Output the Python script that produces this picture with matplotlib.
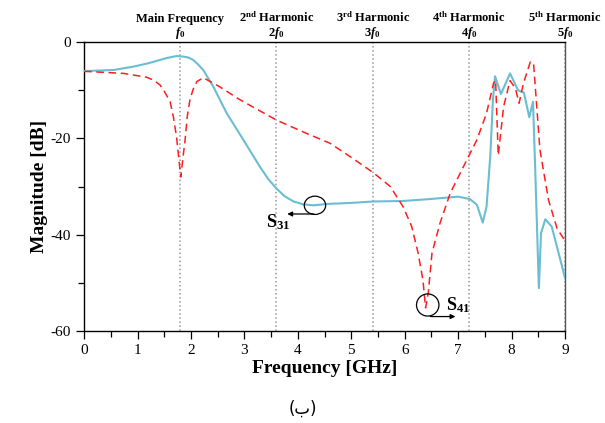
import numpy as np
import matplotlib.pyplot as plt
from matplotlib.ticker import MultipleLocator
from matplotlib.patches import Ellipse

# S31 (solid cyan)
s31_f = [0.0, 0.05, 0.55, 0.92, 1.2, 1.36, 1.55, 1.73, 1.85, 1.95, 2.04, 2.12, 2.23, 2.42, 2.67,
         2.98, 3.29, 3.45, 3.6, 3.75, 3.92, 4.1, 4.29, 4.57, 5.0, 5.41, 5.97, 6.47, 7.0, 7.22,
         7.35, 7.46, 7.53, 7.6, 7.65, 7.69, 7.8, 7.97, 8.12, 8.23, 8.33, 8.4, 8.44, 8.51, 8.55,
         8.63, 8.75, 9.0]
s31_db = [-6.0, -6.0, -5.8, -5.1, -4.4, -3.9, -3.3, -2.9, -3.0, -3.2, -3.7, -4.5, -5.8, -9.3, -14.8,
          -20.3, -25.9, -28.5, -30.4, -32.0, -33.1, -33.7, -33.9, -33.6, -33.4, -33.1, -33.0, -32.6, -32.1, -32.6,
          -33.8, -37.5, -34.2, -23.8, -12.0, -7.1, -10.8, -6.5, -10.0, -10.5, -15.6, -12.4, -25.9, -51.1, -39.7,
          -36.8, -38.3, -49.0]

# S41 (dashed red)
s41_f = [0.0, 0.05, 0.74, 1.17, 1.3, 1.42, 1.5, 1.61, 1.67, 1.73, 1.77, 1.81, 1.85, 1.89, 1.93,
         1.98, 2.04, 2.11, 2.23, 2.54, 2.92, 3.6, 4.17, 4.6, 4.98, 5.41, 5.73, 5.97, 6.13, 6.25,
         6.34, 6.39, 6.44, 6.51, 6.66, 6.85, 7.16, 7.35, 7.53, 7.66, 7.7, 7.75, 7.85, 7.97, 8.07,
         8.14, 8.22, 8.35, 8.41, 8.53, 8.69, 8.85, 9.0]
s41_db = [-6.1, -6.1, -6.5, -7.3, -7.9, -8.9, -10.2, -12.4, -15.5, -19.7, -24.0, -28.0, -24.0, -20.3, -15.5,
          -12.0, -9.8, -8.2, -7.4, -9.3, -12.0, -16.2, -19.0, -21.0, -23.8, -27.1, -30.0, -34.2, -38.3, -43.8,
          -49.4, -55.2, -52.1, -43.8, -37.6, -31.4, -24.5, -20.3, -14.8, -8.6, -7.9, -23.5, -13.4, -8.0, -9.6,
          -12.7, -8.6, -4.1, -4.4, -22.4, -32.8, -38.7, -41.3]

harmonic_f = [1.8, 3.6, 5.4, 7.2, 9.0]
harmonic_names = ["Main Frequency", "2$^{\\mathrm{nd}}$ Harmonic", "3$^{\\mathrm{rd}}$ Harmonic",
                  "4$^{\\mathrm{th}}$ Harmonic", "5$^{\\mathrm{th}}$ Harmonic"]
harmonic_sub = ["$\\mathit{f}_0$", "2$\\mathit{f}_0$", "3$\\mathit{f}_0$", "4$\\mathit{f}_0$", "5$\\mathit{f}_0$"]

plt.rcParams["font.family"] = ["Liberation Serif", "DejaVu Serif"]
plt.rcParams["axes.unicode_minus"] = False
plt.rcParams["mathtext.fontset"] = "custom"
plt.rcParams["mathtext.rm"] = "Liberation Serif:bold"
plt.rcParams["mathtext.it"] = "Liberation Serif:bold:italic"
plt.rcParams["mathtext.bf"] = "Liberation Serif:bold"

fig = plt.figure(figsize=(6.05, 4.23), dpi=100)
ax = fig.add_axes([0.139, 0.2175, 0.795, 0.683])

for f in harmonic_f:
    ax.axvline(f, color="#999999", linestyle=":", linewidth=1.1, zorder=1)

ax.plot(s31_f, s31_db, color="#6BBDD2", linewidth=1.5, zorder=3)
ax.plot(s41_f, s41_db, color="#FF1E1E", linewidth=1.1, linestyle=(0, (5, 3)), zorder=3)

for f, name, sub in zip(harmonic_f, harmonic_names, harmonic_sub):
    ax.text(f, 1.058, name, transform=ax.get_xaxis_transform(), ha="center", va="bottom",
            fontsize=9, fontweight="bold")
    ax.text(f, 1.005, sub, transform=ax.get_xaxis_transform(), ha="center", va="bottom",
            fontsize=9, fontweight="bold")

# annotations
ax.add_patch(Ellipse((4.32, -33.9), 0.4, 3.8, fill=False, edgecolor="black", linewidth=0.9, zorder=4))
ax.annotate("", xy=(3.75, -35.7), xytext=(4.35, -35.7),
            arrowprops=dict(arrowstyle="-|>", color="black", linewidth=0.9, mutation_scale=7))
ax.text(3.4, -37.4, "S$_{31}$", fontsize=13, fontweight="bold", ha="left", va="center")

ax.add_patch(Ellipse((6.43, -54.6), 0.42, 4.6, fill=False, edgecolor="black", linewidth=0.9, zorder=4))
ax.annotate("", xy=(7.0, -57.0), xytext=(6.43, -57.0),
            arrowprops=dict(arrowstyle="-|>", color="black", linewidth=0.9, mutation_scale=7))
ax.text(6.78, -54.6, "S$_{41}$", fontsize=13, fontweight="bold", ha="left", va="center")

ax.set_xlim(0, 9)
ax.set_ylim(-60, 0)
ax.xaxis.set_major_locator(MultipleLocator(1))
ax.xaxis.set_minor_locator(MultipleLocator(0.5))
ax.yaxis.set_major_locator(MultipleLocator(20))
ax.yaxis.set_minor_locator(MultipleLocator(10))
ax.tick_params(which="both", direction="out", labelsize=11, width=0.9)
ax.tick_params(which="major", length=6)
ax.tick_params(which="minor", length=4)
for s in ax.spines.values():
    s.set_linewidth(1.0)
ax.spines["right"].set_color("#555555")

ax.set_xlabel("Frequency [GHz]", fontsize=14, fontweight="bold", labelpad=2)
ax.set_ylabel("Magnitude [dB]", fontsize=14, fontweight="bold", labelpad=2)

fig.text(0.5, 0.035, "(ب)", ha="center", va="center", fontsize=12,
         family=["DejaVu Sans"])

fig.savefig("out.png", dpi=100)
